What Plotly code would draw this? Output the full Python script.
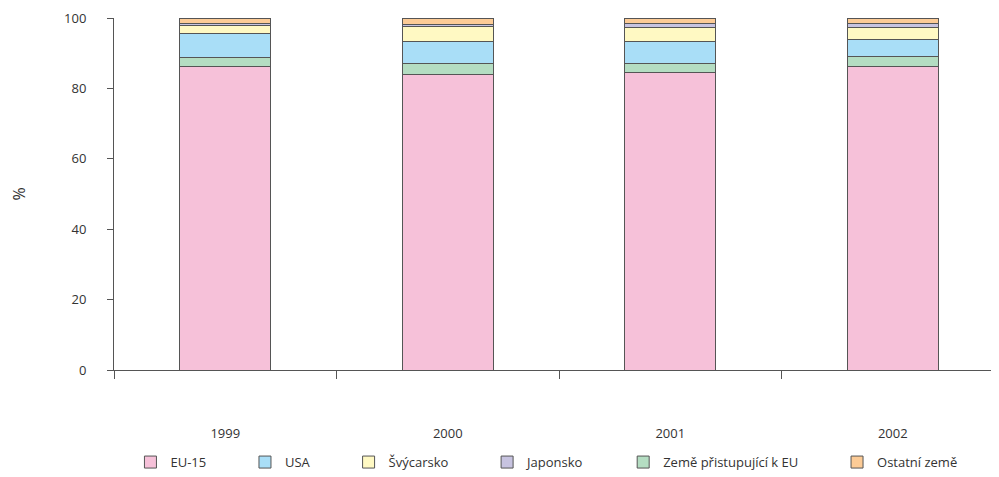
import plotly.graph_objects as go

years = ["1999", "2000", "2001", "2002"]

eu15 = [86.3, 84.0, 84.6, 86.1]
zeme_eu = [2.6, 3.0, 2.5, 2.9]
usa = [6.6, 6.4, 6.2, 4.9]
svycarsko = [2.4, 4.3, 4.0, 3.4]
japonsko = [0.4, 0.4, 1.0, 1.2]
ostatni = [1.7, 1.9, 1.7, 1.5]

series = [
    ("EU-15", eu15, "#F6C1D9", 1),
    ("Země přistupující k EU", zeme_eu, "#B4DDC2", 5),
    ("USA", usa, "#A9DEF7", 2),
    ("Švýcarsko", svycarsko, "#FFF9C3", 3),
    ("Japonsko", japonsko, "#C7C3E0", 4),
    ("Ostatní země", ostatni, "#FCCB96", 6),
]

fig = go.Figure()
for name, vals, col, rank in series:
    fig.add_trace(go.Bar(
        x=years, y=vals, name=name + "          ", legendrank=rank,
        marker=dict(color=col, line=dict(color="#555555", width=1)),
    ))

# page body has an 8px margin, so shift everything up/left by 8
fig.update_layout(
    barmode="stack",
    bargap=0.59,
    width=999, height=477,
    margin=dict(l=106, r=3, t=10, b=115, autoexpand=False),
    plot_bgcolor="white", paper_bgcolor="white",
    font=dict(family="Open Sans", size=13, color="#333333"),
    legend=dict(orientation="h", x=0.556, xanchor="center", xref="container",
                y=0.048, yanchor="middle", yref="container",
                font=dict(size=13), traceorder="normal"),
    showlegend=True,
)
fig.update_yaxes(
    range=[0, 100], dtick=20, showgrid=False, zeroline=False,
    showline=True, linecolor="#555555", linewidth=1,
    ticks="outside", ticklen=6, tickcolor="#555555",
    ticklabelstandoff=18, automargin=False,
    title=dict(text="%", standoff=62),
)
fig.update_xaxes(
    showgrid=False, showline=True, linecolor="#555555", linewidth=1,
    ticks="outside", tickson="boundaries", ticklen=8, tickcolor="#555555",
    ticklabelstandoff=51, automargin=False,
)

fig.write_html("out.html")
